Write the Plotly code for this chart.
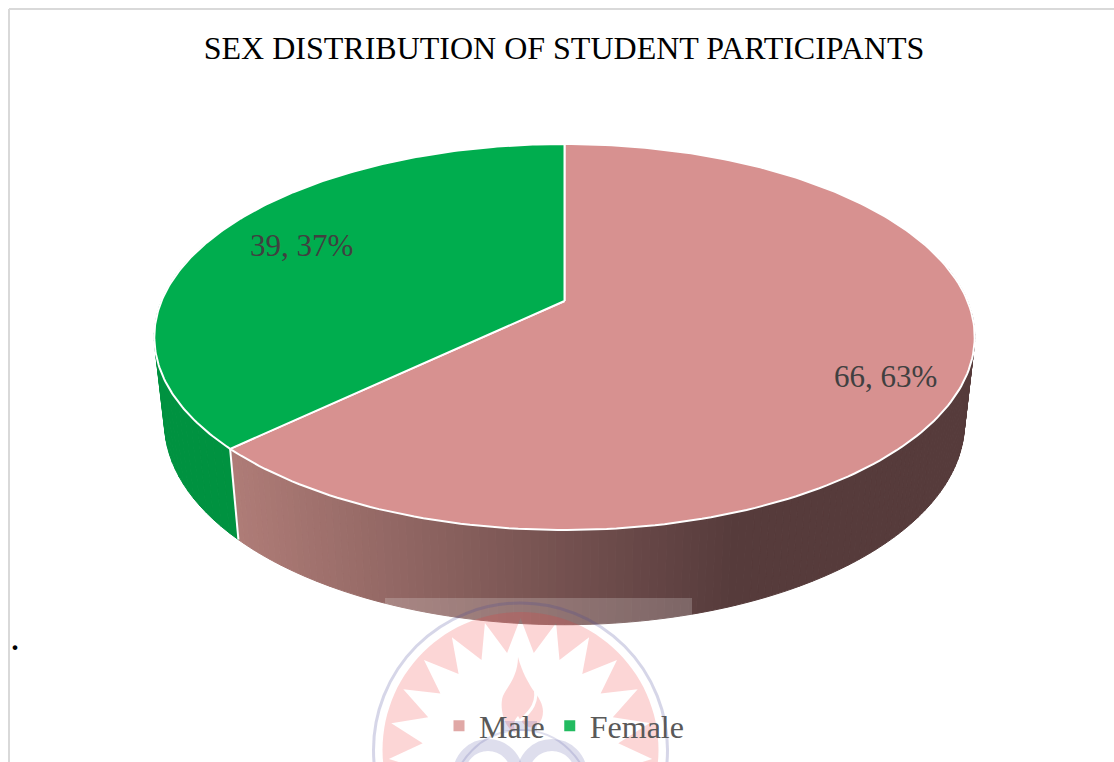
import math

import numpy as np
import plotly.graph_objects as go

CATEGORIES = ["Male", "Female"]
VALUES = [66, 39]
TITLE = "SEX DISTRIBUTION OF STUDENT PARTICIPANTS"

TOP_COLORS = ["#d79190", "#00ad4e"]
LEGEND_COLORS = ["#e0a8a6", "#22bb60"]
GREEN_SIDE = "rgb(0,146,64)"
SERIF = "Liberation Serif"

W, H = 1114, 762
CX = 564.5
TILT = 0.1865  # perspective of the pie lid


def project(theta, radius, rx, ry, apex_y):
    # theta is degrees clockwise from 12 o'clock
    t = np.radians(theta)
    u, v = radius * np.sin(t), radius * np.cos(t)
    w = 1 + TILT * v
    return CX + rx * u / w, apex_y - ry * v / w


def top_rim(theta, radius=1.0):
    return project(theta, radius, 403, 186.3, 301)


def bottom_rim(theta):
    return project(theta, 1.0, 393, 195, 385)


def side_color(x):
    f = min(max((x - 232) / (730 - 232), 0), 1)
    r = 176 + (86 - 176) * f
    g = 125 + (59 - 125) * f
    b = 120 + (59 - 120) * f
    return f"rgb({r:.0f},{g:.0f},{b:.0f})"


def polygon(xs, ys, color, line_color=None, line_width=1):
    return go.Scatter(
        x=xs,
        y=ys,
        mode="lines",
        fill="toself",
        fillcolor=color,
        line=dict(color=line_color or color, width=line_width),
        hoverinfo="skip",
        showlegend=False,
    )


def side_strip(a, b, color):
    tx, ty = top_rim(np.array([a, b]))
    bx, by = bottom_rim(np.array([a, b]))
    return polygon(
        [tx[0], tx[1], bx[1], bx[0], tx[0]],
        [ty[0], ty[1], by[1], by[0], ty[0]],
        color,
    )


total = sum(VALUES)
split = 360 * VALUES[0] / total

fig = go.Figure()

# walls first, the lid goes on top of them
edges = np.append(np.arange(70, split, 1.0), split)
for a, b in zip(edges[:-1], edges[1:]):
    x_mid, _ = bottom_rim((a + b) / 2)
    fig.add_trace(side_strip(a, b, side_color(float(x_mid))))
edges = np.append(np.arange(split, 290, 2.0), 290)
for a, b in zip(edges[:-1], edges[1:]):
    fig.add_trace(side_strip(a, b, GREEN_SIDE))

# white seam between the two walls
sx0, sy0 = top_rim(split)
sx1, sy1 = bottom_rim(split)
fig.add_trace(
    go.Scatter(
        x=[sx0, sx1],
        y=[sy0, sy1],
        mode="lines",
        line=dict(color="white", width=2),
        hoverinfo="skip",
        showlegend=False,
    )
)

start = 0.0
for value, color in zip(VALUES, TOP_COLORS):
    sweep = 360 * value / total
    angles = np.linspace(start, start + sweep, 200)
    rx, ry = top_rim(angles)
    fig.add_trace(
        polygon(
            np.concatenate([[CX], rx, [CX]]),
            np.concatenate([[301], ry, [301]]),
            color,
            "white",
            2,
        )
    )
    start += sweep

for name, color in zip(CATEGORIES, LEGEND_COLORS):
    fig.add_trace(
        go.Scatter(
            x=[None],
            y=[None],
            mode="markers",
            name=name,
            marker=dict(color=color, size=11, symbol="square"),
        )
    )

# faint logo showing through from the page behind
LOGO_X, LOGO_Y = 520.5, 750


def circle_path(radius, reverse=False):
    n = 120
    pts = [
        (
            LOGO_X + radius * math.cos(2 * math.pi * i / n),
            LOGO_Y + radius * math.sin(2 * math.pi * i / n),
        )
        for i in range(n)
    ]
    return pts[::-1] if reverse else pts


def star_points():
    pts = []
    for i in range(46):
        ang = math.radians(i * 7.826)
        r = 132 if i % 2 == 0 else 98
        pts.append((LOGO_X + r * math.sin(ang), LOGO_Y - r * math.cos(ang)))
    return pts


def to_path(points):
    return "M" + " L".join(f"{x:.1f},{y:.1f}" for x, y in points) + " Z"


logo_pink = "rgba(240,50,50,0.2)"
logo_blue = "rgba(90,90,165,0.2)"
shapes = [
    dict(type="rect", x0=385, x1=692, y0=598, y1=625, fillcolor="rgba(255,255,255,0.2)", line_width=0),
    dict(type="path", path=to_path(circle_path(138)) + " " + to_path(star_points()), fillcolor=logo_pink, line_width=0),
    dict(type="circle", x0=LOGO_X - 147, x1=LOGO_X + 147, y0=LOGO_Y - 147, y1=LOGO_Y + 147,
         line=dict(color="rgba(70,70,150,0.22)", width=3)),
    # flame
    dict(type="path",
         path="M518,657 C522,672 528,682 533,690 C541,700 545,708 542,718 C538,729 527,733 518,716 "
              "C512,722 514,728 516,733 C506,730 500,712 502,700 C503,690 518,680 518,657 Z",
         fillcolor=logo_pink, line_width=0),
    dict(type="path", path="M534,684 C540,702 530,712 521,720 C516,725 517,730 518,736",
         line=dict(color="white", width=3)),
    # rings at the foot of the emblem
    dict(type="circle", x0=452, x1=590, y0=730, y1=868, line=dict(color=logo_blue, width=2)),
    dict(type="circle", x0=459, x1=517, y0=745, y1=803, line=dict(color=logo_blue, width=12)),
    dict(type="circle", x0=523, x1=581, y0=745, y1=803, line=dict(color=logo_blue, width=12)),
    dict(type="rect", x0=503, x1=537, y0=721, y1=731, fillcolor=logo_blue, line_width=0),
]
for s in shapes:
    s.update(layer="above", xref="x", yref="y")

labels = [f"{v}, {round(100 * v / total)}%" for v in VALUES]
annotations = [
    dict(x=885, y=376, text=labels[0]),
    dict(x=301, y=245, text=labels[1]),
]
for a in annotations:
    a.update(xref="x", yref="y", showarrow=False, font=dict(family=SERIF, size=31, color="#404040"))
annotations.append(
    dict(x=15, y=636, xref="x", yref="y", text=".", showarrow=False, font=dict(family=SERIF, size=40, color="black"))
)

# chart frame, top and left edges are the only ones in view
shapes += [
    dict(type="line", x0=9, x1=W, y0=9, y1=9, xref="x", yref="y", line=dict(color="#d9d9d9", width=2)),
    dict(type="line", x0=9, x1=9, y0=9, y1=H, xref="x", yref="y", line=dict(color="#d9d9d9", width=2)),
]

fig.update_layout(
    width=W,
    height=H,
    margin=dict(l=0, r=0, t=0, b=0),
    paper_bgcolor="white",
    plot_bgcolor="white",
    title=dict(
        text=TITLE,
        x=564 / W,
        xanchor="center",
        y=1 - 48 / H,
        yanchor="middle",
        font=dict(family=SERIF, size=32, color="black"),
    ),
    xaxis=dict(range=[0, W], visible=False, fixedrange=True),
    yaxis=dict(range=[H, 0], visible=False, fixedrange=True),
    legend=dict(
        orientation="h",
        x=564 / W,
        xanchor="center",
        y=1 - 726 / H,
        yanchor="middle",
        font=dict(family=SERIF, size=32, color="#595959"),
        bgcolor="rgba(0,0,0,0)",
    ),
    shapes=shapes,
    annotations=annotations,
    hovermode=False,
)

# the page's default body margin would push the chart 8px off
fig.write_html(
    "out.html",
    config={"displayModeBar": False},
    post_script="document.body.style.margin = '0';",
)
